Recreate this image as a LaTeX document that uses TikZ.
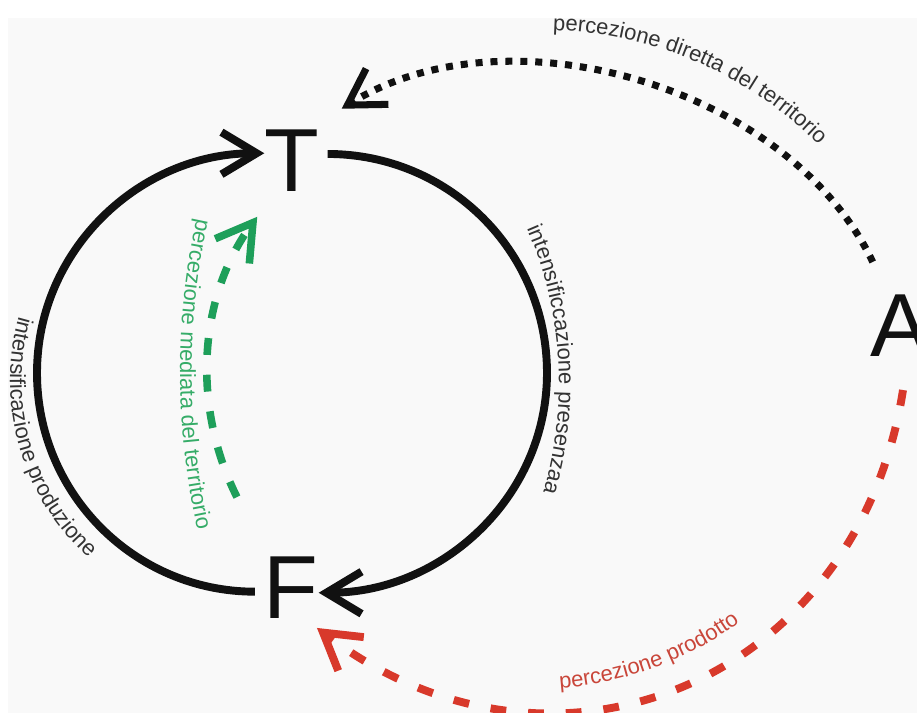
\documentclass[tikz,border=0pt]{standalone}
\usepackage{fontspec}
\setmainfont{Liberation Sans}
\usepackage{xcolor}
\definecolor{ink}{HTML}{111111}
\definecolor{lab_gray}{HTML}{333333}
\definecolor{med_green}{HTML}{1E9F5A}
\definecolor{med_text}{HTML}{35AC68}
\definecolor{prod_red}{HTML}{D8392B}
\definecolor{prod_text}{HTML}{C9463A}
\definecolor{paper}{HTML}{F9F9F9}
\usepackage{tikz}
\usetikzlibrary{calc}
\usetikzlibrary{arrows.meta, decorations.text}
\newcommand{\labfont}{\fontsize{12.5}{14}\selectfont}
\tikzstyle{letter} = [font=\fontsize{51}{51}\selectfont, inner sep=0pt, text=ink]
\tikzstyle{loop_arr} = [line width=4.5pt, ink, ->, >={Straight Barb[sharp,length=20pt,width=24pt]}]
\tikzstyle{dir_arr} = [line width=4pt, ink, dash pattern=on 4pt off 4.5pt, ->, >={Straight Barb[sharp,length=20pt,width=24pt]}]
\tikzstyle{med_arr} = [line width=4.3pt, med_green, dash pattern=on 9.6pt off 11.3pt, ->, >={Straight Barb[sharp,length=20pt,width=24pt]}]
\tikzstyle{prod_arr} = [line width=4.5pt, prod_red, dash pattern=on 9pt off 12.5pt, ->, >={Straight Barb[sharp,length=20pt,width=24pt]}]

\begin{document}
\begin{tikzpicture}[x=0.02cm, y=0.02cm]
        \useasboundingbox (0,0) rectangle (917,713);
        \fill [paper] (8,0) rectangle (917,695);
        \node (T)[letter] at (292,552) {T};
        \node (F)[letter] at (291,125) {F};
        \node (A)[letter] at (900,387) {A};
        \coordinate (west) at (37,340);
        \coordinate (east) at (547,340);
        % the T-F loop
        \draw [loop_arr] ([xshift=-4.8pt,yshift=-2.1pt]F.west) to[out=180,in=-90] (west) to[out=90,in=180] ([yshift=4.4pt]T.west);
        \draw [loop_arr] ([xshift=4.5pt,yshift=4pt]T.east) to[out=0,in=90] (east) to[out=-90,in=0] ([yshift=-2.7pt]F.east);
        % perception arrows
        \draw [dir_arr] ([xshift=1.7pt,yshift=18.7pt]A.north west) to[out=115.5,in=32,looseness=0.9] ([xshift=12.5pt,yshift=12pt]T.north east);
        \draw [med_arr] ([xshift=-15pt,yshift=34pt]F.north west) to[out=116.5,in=234,looseness=0.92] ([xshift=-4pt,yshift=-14pt]T.south west);
        \draw [prod_arr] ([xshift=1.7pt,yshift=-18.7pt]A.south) to[out=-98.8,in=-37.3,looseness=1.2] ([xshift=-1pt,yshift=-5pt]F.south east);
        % labels along the arcs
        \path [decorate, decoration={text along path, text color=lab_gray, text={|\labfont|percezione diretta del territorio}}] ($(542,293)+(88.4:390)$) arc[start angle=88.4, end angle=35, radius=390];
        \path [decorate, decoration={text along path, text color=lab_gray, text={|\labfont|intensificazione produzione}}] ($(248,332)+(164.2:238)$) arc[start angle=164.2, end angle=240, radius=238];
        \path [decorate, decoration={text along path, text color=lab_gray, text={|\labfont|intensificcazione presenzaa}}] ($(169,330)+(23.4:390)$) arc[start angle=23.4, end angle=-25, radius=390];
        \path [decorate, decoration={text along path, text color=med_text, text={|\labfont|percezione mediata del territorio}}] ($(900,341)+(167.7:720)$) arc[start angle=167.7, end angle=200, radius=720];
        \path [decorate, decoration={text along path, text color=prod_text, text={|\labfont|percezione prodotto}}] ($(535,372)+(-85.9:348)$) arc[start angle=-85.9, end angle=-40, radius=348];
    \end{tikzpicture}
\end{document}
